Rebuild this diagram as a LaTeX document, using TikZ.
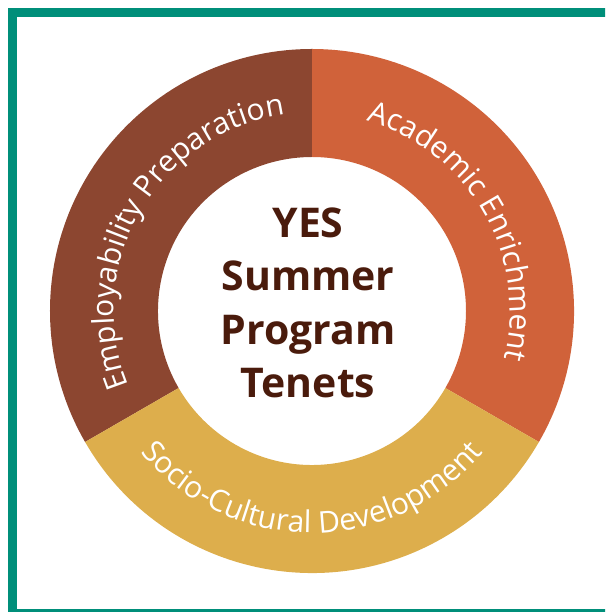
\documentclass[tikz,border=0pt]{standalone}
\usepackage{fontspec}
\setmainfont{Open Sans}
\usepackage{tikz}
\usetikzlibrary{decorations.text}
\definecolor{frameteal}{HTML}{008F7A}
\definecolor{employbrown}{HTML}{8C4630}
\definecolor{academicorange}{HTML}{D0623A}
\definecolor{socioyellow}{HTML}{DDAE4C}
\definecolor{tenetbrown}{HTML}{4A1B0C}
\tikzset{
	frame/.style={
		draw=frameteal, line width=9pt
	},
	tenet/.style={
		fill=#1, draw=none
	},
	ring text/.style={
		decorate,
		decoration={text along path, text align=center, text color=white, text={|\ringfont|#1}}
	},
	title/.style={
		font=\titlefont, text=tenetbrown, align=center, inner sep=0pt
	}
}
\def\rout{262}
\def\rin{154}
\def\ringfont{\fontsize{30}{33}\selectfont}
\def\titlefont{\bfseries\fontsize{41}{53.5}\selectfont}
\def\segment#1#2#3{\fill[tenet=#1] (#2:\rout) arc[start angle=#2, end angle=#3, radius=\rout] -- (#3:\rin) arc[start angle=#3, end angle=#2, radius=\rin] -- cycle;}

\begin{document}
\begin{tikzpicture}[x=1pt, y=1pt]
    \useasboundingbox (-312,-301) rectangle (293,311);
    \clip (-312,-301) rectangle (293,311);
    \draw[frame] (-299.5,298.5) rectangle (310,-302.5);

    % three tenets of the ring
    \segment{employbrown}{90}{210}
    \segment{academicorange}{-30}{90}
    \segment{socioyellow}{210}{330}

    \path[ring text=Employability Preparation] (210:198) arc[start angle=210, end angle=90, radius=198];
    \path[ring text=Academic Enrichment] (90:198) arc[start angle=90, end angle=-30, radius=198];
    \path[ring text=Socio-Cultural Development] (210:222) arc[start angle=210, end angle=330, radius=222];

    \node[title] (tenets) at (-4,8) {YES\\Summer\\Program\\Tenets};
\end{tikzpicture}
\end{document}
